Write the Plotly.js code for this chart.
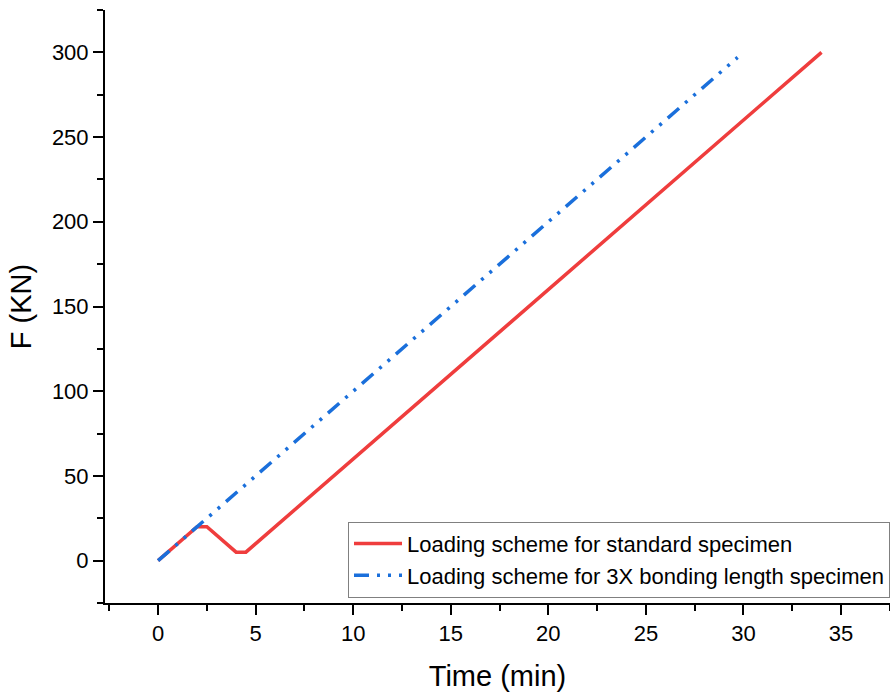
<!DOCTYPE html>
<html>
<head>
<meta charset="utf-8">
<script src="https://cdn.plot.ly/plotly-3.0.1.min.js"></script>
<style>html,body{margin:0;padding:0;background:#fff;}#chart{width:890px;height:696px;}</style>
</head>
<body>
<div id="chart"></div>
<script>
const stdTime = [0, 2, 2.5, 4, 4.5, 34];
const stdForce = [0, 20, 20, 5, 5, 300];
const longTime = [0, 29.7];
const longForce = [0, 297];
const stdName = "Loading scheme for standard specimen";
const longName = "Loading scheme for 3X bonding length specimen";
const xTicks = [0, 5, 10, 15, 20, 25, 30, 35];
const yTicks = [0, 50, 100, 150, 200, 250, 300];

const traces = [
  {x: stdTime, y: stdForce, name: stdName, mode: 'lines', type: 'scatter',
   line: {color: '#EF3D3D', width: 3.5}},
  {x: longTime, y: longForce, name: longName, mode: 'lines', type: 'scatter',
   line: {color: '#1A6FDB', width: 3.5, dash: '15px,8px,3px,8px,3px,8px'}}
];
const font = {family: 'Liberation Sans, Arial, sans-serif', color: '#000'};
const layout = {
  width: 890, height: 696,
  margin: {l: 105, r: 0, t: 10, b: 93},
  paper_bgcolor: '#fff', plot_bgcolor: '#fff',
  font: font,
  showlegend: true,
  legend: {x: 0.3096, y: 0.137, xanchor: 'left', yanchor: 'top',
    bordercolor: '#808080', borderwidth: 1, bgcolor: '#fff',
    font: {family: font.family, size: 22, color: '#000'},
    tracegroupgap: 0, itemwidth: 48},
  xaxis: {range: [-2.72, 37.51], tickvals: xTicks, ticks: 'outside', ticklen: 10, tickwidth: 2,
    tickcolor: '#000', showline: true, linecolor: '#000', linewidth: 2, showgrid: false, zeroline: false,
    tickfont: {size: 22, family: font.family}, 
    minor: {dtick: 2.5, tick0: 0, ticks: 'outside', ticklen: 6, tickwidth: 2, tickcolor: '#000', showgrid: false},
    title: {text: 'Time (min)', font: {size: 29, family: font.family}, standoff: 20}},
  yaxis: {range: [-25, 325], tickvals: yTicks, ticks: 'outside', ticklen: 10, tickwidth: 2,
    tickcolor: '#000', showline: true, linecolor: '#000', linewidth: 2, showgrid: false, zeroline: false,
    tickfont: {size: 22, family: font.family},
    minor: {dtick: 25, tick0: 0, ticks: 'outside', ticklen: 6, tickwidth: 2, tickcolor: '#000', showgrid: false},
    title: {text: 'F (KN)', font: {size: 29, family: font.family}, standoff: 12}}
};
Plotly.newPlot('chart', traces, layout, {displayModeBar: false});
</script>
</body>
</html>
